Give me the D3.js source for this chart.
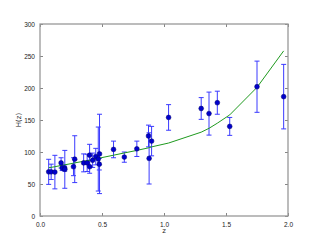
<!DOCTYPE html>
<html>
<head>
<meta charset="utf-8">
<script src="https://cdn.jsdelivr.net/npm/d3@7"></script>
<style>
  body { margin: 0; background: #fff; }
  svg { display: block; font-family: "DejaVu Sans", sans-serif; }
</style>
</head>
<body>
<svg width="320" height="240"></svg>
<script>
// observed H(z) points
var zs = [0.07, 0.09, 0.12, 0.17, 0.179, 0.199, 0.20, 0.27, 0.28, 0.352, 0.3802, 0.40, 0.4004, 0.4247,
          0.4497, 0.47, 0.4783, 0.48, 0.593, 0.68, 0.781, 0.875, 0.88, 0.90, 1.037, 1.30, 1.363, 1.43,
          1.53, 1.75, 1.965];
var hs = [69, 69, 68.6, 83, 75, 75, 72.9, 77, 88.8, 83, 83, 95, 77, 87.1,
          92.8, 89, 80.9, 97, 104, 92, 105, 125, 90, 117, 154, 168, 160, 177,
          140, 202, 186.5];
var errs = [19.6, 12, 26.2, 8, 4, 5, 29.6, 14, 36.6, 14, 13.5, 17, 10.2, 11.2,
            12.9, 50, 9, 62, 13, 8, 12, 17, 40, 23, 20, 17, 33.6, 18,
            14, 40, 50.4];
// model curve, read at the same redshifts
var model = [75.5, 76, 77, 79, 79.3, 80, 80, 82.5, 83, 85.5, 86.5, 87, 87, 88,
             89, 90, 90.5, 90.5, 95, 98.5, 102.5, 106.5, 107, 108, 114, 131, 137, 145,
             158, 201, 258];

var xTicks = [0, 0.5, 1.0, 1.5, 2.0];
var yTicks = [0, 50, 100, 150, 200, 250, 300];

var svg = d3.select("svg");
var pLeft = 40, pRight = 288, pTop = 24, pBottom = 216;

var x = d3.scaleLinear().domain([0, 2]).range([pLeft, pRight]);
var y = d3.scaleLinear().domain([0, 300]).range([pBottom, pTop]);

var pts = zs.map(function(z, i) { return {z: z, h: hs[i], e: errs[i], m: model[i]}; });

// axes: ticks pointing inward on all four sides
function styleAxis(g) {
    g.select(".domain").remove();
    g.selectAll("line").attr("stroke", "#666").attr("stroke-width", 0.8);
    g.selectAll("text").attr("fill", "#222").attr("font-size", "6.5px");
}

svg.append("g")
    .attr("transform", "translate(0," + pBottom + ")")
    .call(d3.axisBottom(x).tickValues(xTicks).tickFormat(d3.format(".1f")).tickSizeInner(-3).tickPadding(6))
    .call(styleAxis);
svg.append("g")
    .attr("transform", "translate(0," + pTop + ")")
    .call(d3.axisTop(x).tickValues(xTicks).tickSizeInner(-3).tickFormat(""))
    .call(styleAxis);
svg.append("g")
    .attr("transform", "translate(" + pLeft + ",0)")
    .call(d3.axisLeft(y).tickValues(yTicks).tickSizeInner(-3).tickPadding(5))
    .call(styleAxis);
svg.append("g")
    .attr("transform", "translate(" + pRight + ",0)")
    .call(d3.axisRight(y).tickValues(yTicks).tickSizeInner(-3).tickFormat(""))
    .call(styleAxis);

// error bars
var eb = svg.append("g").attr("stroke", "#3a3aff").attr("stroke-width", 1);
pts.forEach(function(d) {
    eb.append("line")
        .attr("x1", x(d.z)).attr("x2", x(d.z))
        .attr("y1", y(d.h - d.e)).attr("y2", y(d.h + d.e));
    [d.h - d.e, d.h + d.e].forEach(function(v) {
        eb.append("line")
            .attr("x1", x(d.z) - 2.5).attr("x2", x(d.z) + 2.5)
            .attr("y1", y(v)).attr("y2", y(v));
    });
});

// model line
var line = d3.line().x(function(d) { return x(d.z); }).y(function(d) { return y(d.m); });
svg.append("path")
    .datum(pts)
    .attr("d", line)
    .attr("fill", "none")
    .attr("stroke", "#1f9a1f")
    .attr("stroke-width", 1);

// data points
svg.append("g").selectAll("circle")
    .data(pts)
    .enter().append("circle")
    .attr("cx", function(d) { return x(d.z); })
    .attr("cy", function(d) { return y(d.h); })
    .attr("r", 2.4)
    .attr("fill", "#0000cc")
    .attr("stroke", "#00006a")
    .attr("stroke-width", 0.5);

// frame
svg.append("rect")
    .attr("x", pLeft).attr("y", pTop)
    .attr("width", pRight - pLeft).attr("height", pBottom - pTop)
    .attr("fill", "none")
    .attr("stroke", "#999")
    .attr("stroke-width", 1.3);

// axis labels
svg.append("text")
    .attr("x", (pLeft + pRight) / 2).attr("y", 233)
    .attr("text-anchor", "middle")
    .attr("font-size", "7px").attr("fill", "#222")
    .text("z");
svg.append("text")
    .attr("transform", "translate(21," + ((pTop + pBottom) / 2) + ") rotate(-90)")
    .attr("text-anchor", "middle")
    .attr("font-size", "7px").attr("fill", "#222")
    .text("H(z)");
</script>
</body>
</html>
